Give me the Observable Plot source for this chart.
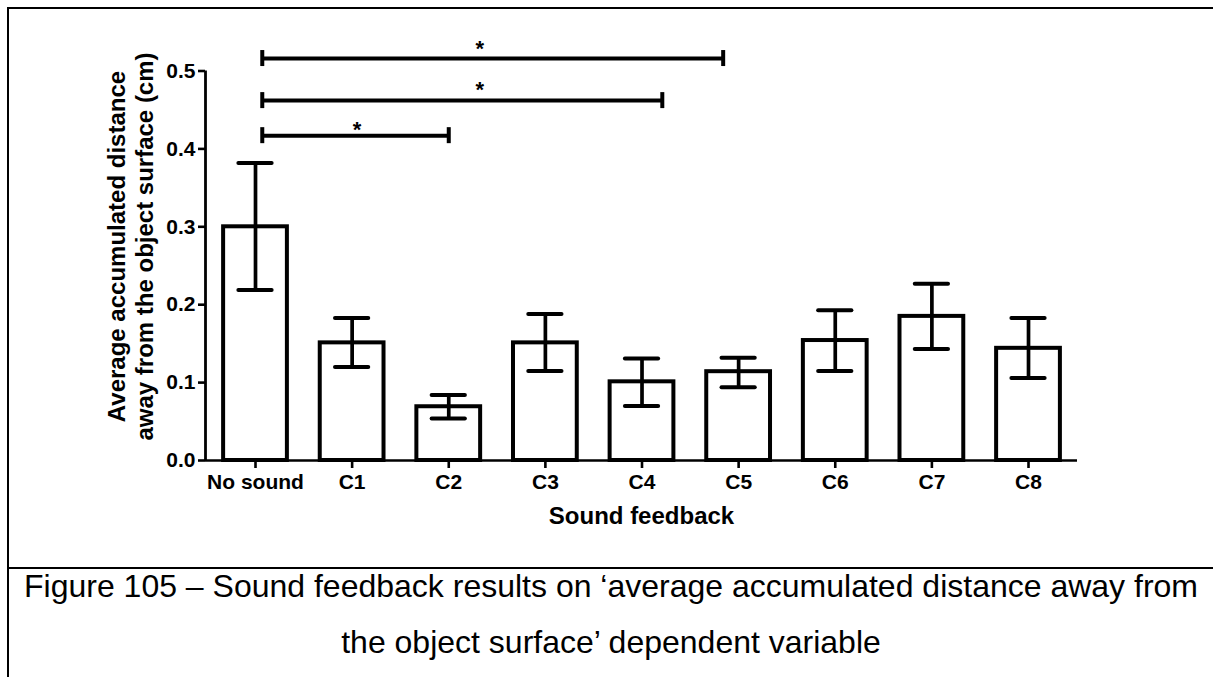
<!DOCTYPE html>
<html>
<head>
<meta charset="utf-8">
<script src="https://cdn.jsdelivr.net/npm/d3@7"></script>
<script src="https://cdn.jsdelivr.net/npm/@observablehq/plot@0.6"></script>
<style>
  html, body { margin: 0; padding: 0; background: #fff; width: 1213px; height: 677px; overflow: hidden; }
  #chart { position: absolute; left: 0; top: 0; width: 1150px; height: 567px; }
  #chart svg { max-width: none !important; }
  .line { position: absolute; background: #000; }
  .cap { position: absolute; left: 9px; width: 1204px; text-align: center; font-family: "Liberation Sans", Arial, sans-serif; font-size: 32px; line-height: 32px; color: #000; white-space: nowrap; }
</style>
</head>
<body>
<div id="chart"></div>
<div class="line" style="left:7px;top:7px;width:1206px;height:2px"></div>
<div class="line" style="left:7px;top:7px;width:2px;height:670px"></div>
<div class="line" style="left:7px;top:567px;width:1206px;height:2px"></div>
<div class="cap" style="top:570px">Figure 105 – Sound feedback results on ‘average accumulated distance away from</div>
<div class="cap" style="top:626px">the object surface’ dependent variable</div>
<script>
// ---- data ----
const categories = ["No sound", "C1", "C2", "C3", "C4", "C5", "C6", "C7", "C8"];
const means = [0.300, 0.151, 0.069, 0.151, 0.101, 0.114, 0.154, 0.185, 0.144];
const upper = [0.382, 0.183, 0.084, 0.188, 0.131, 0.132, 0.193, 0.227, 0.183];
const lower = [0.219, 0.120, 0.054, 0.115, 0.070, 0.094, 0.115, 0.143, 0.106];
const yTicks = [0, 0.1, 0.2, 0.3, 0.4, 0.5];

// significance brackets (positions in category-index units / y units)
const sigFrom = [0.07, 0.07, 0.07];
const sigTo = [4.84, 4.21, 2.00];
const sigLevel = [0.516, 0.462, 0.417];
const sigStarX = [2.32, 2.32, 1.05];
const sigStarY = [0.536, 0.483, 0.432];
const sigLabel = ["*", "*", "*"];

const yTitle1 = "Average accumulated distance";
const yTitle2 = "away from the object surface (cm)";
const xTitle = "Sound feedback";

// ---- tables ----
const rows = categories.map((c, i) => ({i, c, mean: means[i], hi: upper[i], lo: lower[i]}));
const brackets = sigFrom.map((f, k) => ({from: f, to: sigTo[k], level: sigLevel[k], sx: sigStarX[k], sy: sigStarY[k], label: sigLabel[k]}));
const bracketEnds = brackets.flatMap(b => [{x: b.from, level: b.level}, {x: b.to, level: b.level}]);

const xDomain = [-0.5175, 8.507];
const barHalf = 0.33;
const capHalf = 0.172;
const font = "'Liberation Sans', Arial, Helvetica, sans-serif";

const chart = Plot.plot({
  width: 1150,
  height: 567,
  marginLeft: 205,
  marginRight: 73,
  marginTop: 32,
  marginBottom: 107,
  style: {fontFamily: font, fontWeight: "bold", color: "#000", background: "transparent", overflow: "visible", maxWidth: "none"},
  x: {type: "linear", domain: xDomain, axis: null},
  y: {domain: [0, 0.5], range: [460, 70.5], axis: null},
  marks: [
    Plot.rect(rows, {x1: d => d.i - barHalf, x2: d => d.i + barHalf, y1: 0, y2: "mean", fill: "white", stroke: "black", strokeWidth: 4}),
    Plot.ruleX(rows, {x: "i", y1: "lo", y2: "hi", stroke: "black", strokeWidth: 3.7}),
    Plot.ruleY(rows, {x1: d => d.i - capHalf, x2: d => d.i + capHalf, y: "hi", stroke: "black", strokeWidth: 4, strokeLinecap: "round"}),
    Plot.ruleY(rows, {x1: d => d.i - capHalf, x2: d => d.i + capHalf, y: "lo", stroke: "black", strokeWidth: 4, strokeLinecap: "round"}),
    // axis lines
    Plot.ruleY([0], {stroke: "black", strokeWidth: 2.6}),
    Plot.ruleX([xDomain[0]], {y1: 0, y2: yTicks[yTicks.length - 1], stroke: "black", strokeWidth: 2.8}),
    // axes
    Plot.axisY({ticks: yTicks, tickFormat: d3.format(".1f"), tickSize: 7, tickPadding: 3, fontSize: 21, fontWeight: "bold", strokeWidth: 2.6, label: null}),
    Plot.axisX({ticks: categories.map((_, i) => i), tickFormat: i => categories[i], tickSize: 8, tickPadding: 6, fontSize: 21, fontWeight: "bold", strokeWidth: 2.6, label: null}),
    // axis titles
    Plot.text([yTitle1], {frameAnchor: "left", rotate: -90, dx: -88, fontSize: 24, fontWeight: "bold", textAnchor: "middle", lineAnchor: "middle"}),
    Plot.text([yTitle2], {frameAnchor: "left", rotate: -90, dx: -60, fontSize: 24, fontWeight: "bold", textAnchor: "middle", lineAnchor: "middle"}),
    Plot.text([xTitle], {frameAnchor: "bottom", dy: 46, fontSize: 24, fontWeight: "bold", textAnchor: "middle", lineAnchor: "top"}),
    // significance brackets
    Plot.ruleY(brackets, {x1: "from", x2: "to", y: "level", stroke: "black", strokeWidth: 4}),
    Plot.ruleX(bracketEnds, {x: "x", y1: "level", y2: "level", insetTop: -8, insetBottom: -8, stroke: "black", strokeWidth: 4}),
    Plot.text(brackets, {x: "sx", y: "sy", text: "label", fontSize: 22, fontWeight: "bold", dy: 6})
  ]
});
document.getElementById("chart").appendChild(chart);
</script>
</body>
</html>
